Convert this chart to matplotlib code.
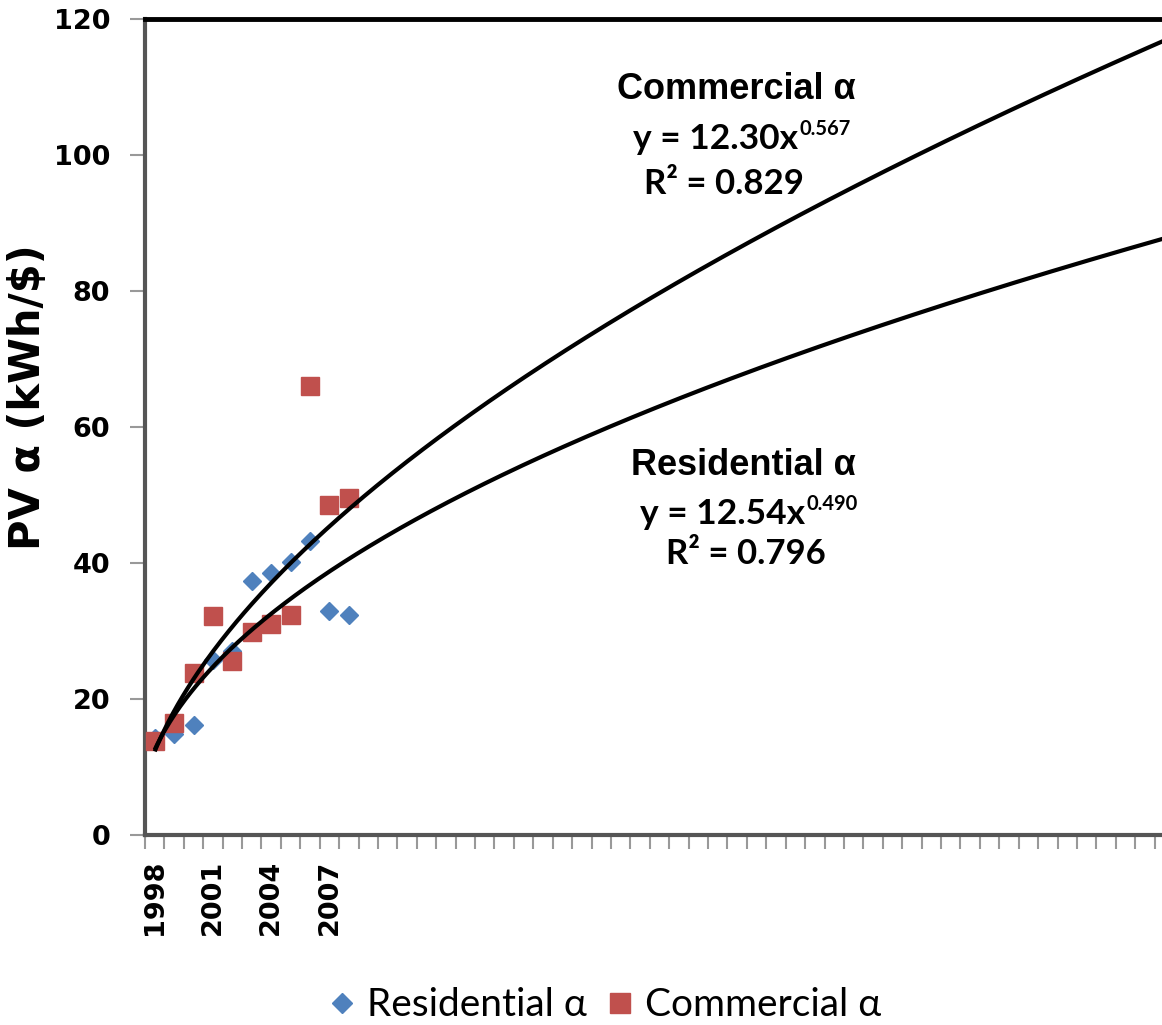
import numpy as np
import matplotlib.pyplot as plt
from matplotlib.lines import Line2D

# PV alpha by year (1998-2008), category axis runs on to 2050
years = list(range(1998, 2009))
residential_alpha = [14.3, 14.9, 16.2, 25.8, 27.0, 37.4, 38.6, 40.1, 43.3, 33.0, 32.3]
commercial_alpha = [13.8, 16.5, 23.8, 32.2, 25.6, 29.8, 31.1, 32.3, 66.0, 48.5, 49.5]
n_categories = 53
labelled_years = [1998, 2001, 2004, 2007]

# power-law trend lines y = a * x^b (x = category index), with R^2
res_fit = (12.54, 0.490, 0.796)
com_fit = (12.30, 0.567, 0.829)

BLUE = "#4F81BD"
RED = "#C0504D"
calibri_like = ["Lato", "Open Sans", "DejaVu Sans"]

W, H = 1162, 1025
fig = plt.figure(figsize=(W / 100, H / 100), dpi=100)
ax = fig.add_axes([145 / W, 190 / H, 1029 / W, 816 / H])


def fx(px):
    return px / W


def fy(py):
    return 1 - py / H


xs = np.arange(1, len(years) + 1)
ax.plot(xs, residential_alpha, linestyle="none", marker="D", markersize=9.5,
        color=BLUE, zorder=3)
ax.plot(xs, commercial_alpha, linestyle="none", marker="s", markersize=13.5,
        color=RED, zorder=4)

xfit = np.linspace(1, n_categories + 0.5, 400)
for a, b, _ in (res_fit, com_fit):
    ax.plot(xfit, a * xfit ** b, color="black", lw=3, zorder=5,
            solid_capstyle="butt")

ax.set_xlim(0.5, n_categories + 0.5)
ax.set_ylim(0, 120)
ax.set_yticks(np.arange(0, 121, 20))

# category ticks sit on bin boundaries, labels at category centres
ax.set_xticks([y - 1997 for y in labelled_years])
ax.set_xticklabels([str(y) for y in labelled_years], rotation=90,
                   fontsize=19.5, fontweight="bold", family="DejaVu Sans")
ax.set_xticks(np.arange(0.5, n_categories + 1, 1), minor=True)
ax.tick_params(axis="x", which="major", length=0, pad=18)
ax.tick_params(axis="x", which="minor", length=10, width=1.5, color="#999999",
               direction="out")
ax.tick_params(axis="y", length=11, width=1.5, color="#999999", pad=14,
               labelsize=19.5)
for lbl in ax.get_yticklabels():
    lbl.set_fontweight("bold")
    lbl.set_family("DejaVu Sans")

ax.spines["top"].set_color("black")
ax.spines["top"].set_linewidth(3.5)
ax.spines["right"].set_visible(False)
for side in ("left", "bottom"):
    ax.spines[side].set_color("#555555")
    ax.spines[side].set_linewidth(3)

fig.text(fx(28), fy(397), "PV α (kWh/$)", rotation=90, ha="center",
         va="center", fontsize=30, fontweight="bold", family="DejaVu Sans")


def trend_label(title, fit, title_xy, eq_xy, r2_xy):
    a, b, r2 = fit
    fig.text(fx(title_xy[0]), fy(title_xy[1]), title, ha="center",
             va="baseline", fontsize=26, fontweight="bold",
             family="Liberation Sans")
    base = fig.text(fx(eq_xy[0]), fy(eq_xy[1]), f"y = {a:.2f}x", ha="left",
                    va="baseline", fontsize=25.5, fontweight="bold",
                    family=calibri_like)
    ax.annotate(f"{b:.3f}", xy=(1, 1), xycoords=base, xytext=(1, 3),
                textcoords="offset points", ha="left", va="top",
                fontsize=14.5, fontweight="bold", family=calibri_like)
    fig.text(fx(r2_xy[0]), fy(r2_xy[1]), f"R² = {r2:.3f}", ha="center",
             va="baseline", fontsize=25, fontweight="bold",
             family=calibri_like)


trend_label("Commercial α", com_fit, (736, 99), (633, 149), (724, 194))
trend_label("Residential α", res_fit, (743, 475), (640, 524), (746, 564))

# legend row under the chart
legend_items = [("Residential α", "D", 10.2, BLUE, 342, 367),
                ("Commercial α", "s", 13.7, RED, 620, 645)]
for text, marker, size, color, mx, tx in legend_items:
    fig.add_artist(Line2D([fx(mx)], [fy(1003)], transform=fig.transFigure,
                          linestyle="none", marker=marker, markersize=size,
                          color=color))
    fig.text(fx(tx), fy(1016), text, ha="left", va="baseline", fontsize=28,
             family=calibri_like)

fig.savefig("out.png", dpi=100)
